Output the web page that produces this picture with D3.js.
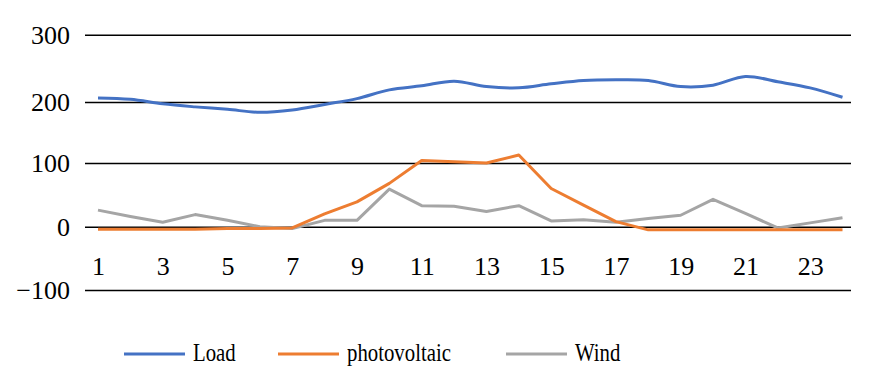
<!DOCTYPE html>
<html>
<head>
<meta charset="utf-8">
<script src="https://cdn.jsdelivr.net/npm/d3@7"></script>
<style>
  html, body { margin: 0; padding: 0; background: #fff; }
  svg { display: block; }
</style>
</head>
<body>
<svg id="chart" width="873" height="382"></svg>
<script>
const hours = [1,2,3,4,5,6,7,8,9,10,11,12,13,14,15,16,17,18,19,20,21,22,23,24];
const xTickLabels = [1,3,5,7,9,11,13,15,17,19,21,23];
const yTicks = [-100, 0, 100, 200, 300];
const seriesNames = ["Load", "photovoltaic", "Wind"];
const seriesColors = ["#4472C4", "#ED7D31", "#A5A5A5"];
const loadValues = [206, 204, 197, 192, 188, 183, 187, 196, 205, 218, 224, 231, 223, 221, 227, 232, 233, 232, 223, 225, 238, 230, 221, 207];
const pvValues = [-4, -4, -4, -4, -3, -3, -2, 20, 39, 68, 104, 102, 100, 113, 60, 34, 8, -5, -5, -5, -5, -5, -5, -5];
const windValues = [26, 16, 7, 19, 10, 0, -3, 10, 10, 59, 33, 32, 24, 33, 9, 11, 7, 13, 18, 43, 21, -2, 6, 14];

const FONT = "Liberation Serif";
const svg = d3.select("#chart");
const left = 85, right = 851;

const x = d3.scalePoint().domain(hours).range([98, 842.5]);
// Piecewise scale follows the reference's uneven grid spacing
const y = d3.scaleLinear().domain([-100, 0, 100, 200, 300]).range([290, 226.7, 163, 102, 34.7]);

// gridlines + y labels
const yAxis = d3.axisLeft(y).tickValues(yTicks).tickSize(-(right - left)).tickPadding(15)
  .tickFormat(d => d < 0 ? "\u2212" + Math.abs(d) : String(d));
const gy = svg.append("g").attr("transform", `translate(${left},0)`).call(yAxis)
  .attr("font-family", FONT).attr("font-size", 26);
gy.select(".domain").remove();
gy.selectAll(".tick line").attr("stroke", "#000").attr("stroke-width", 1.4);
gy.selectAll(".tick text").attr("dy", "0.34em").attr("fill", "#000");

// x labels
const xAxis = d3.axisBottom(x).tickValues(xTickLabels).tickSize(0).tickPadding(0);
const gx = svg.append("g").attr("transform", `translate(0,${y(0)})`).call(xAxis)
  .attr("font-family", FONT).attr("font-size", 26);
gx.select(".domain").remove();
gx.selectAll(".tick text").attr("dy", null).attr("y", 48).attr("fill", "#000");

const data = [loadValues, pvValues, windValues];
const curves = [d3.curveCatmullRom, d3.curveLinear, d3.curveLinear];

// draw order: wind, pv, load (load on top)
[2, 1, 0].forEach(i => {
  const line = d3.line().x((d, j) => x(hours[j])).y(d => y(d)).curve(curves[i]);
  svg.append("path").datum(data[i]).attr("d", line)
    .attr("fill", "none").attr("stroke", seriesColors[i]).attr("stroke-width", 3)
    .attr("stroke-linejoin", "round");
});

// legend
const legendX = [124, 278, 506];
const lg = svg.append("g");
seriesNames.forEach((name, i) => {
  lg.append("line").attr("x1", legendX[i]).attr("x2", legendX[i] + 61)
    .attr("y1", 354).attr("y2", 354)
    .attr("stroke", seriesColors[i]).attr("stroke-width", 3);
  lg.append("text").attr("transform", `translate(${legendX[i] + 69},361) scale(0.8,1)`)
    .attr("font-family", FONT).attr("font-size", 26).attr("fill", "#000").text(name);
});
</script>
</body>
</html>
